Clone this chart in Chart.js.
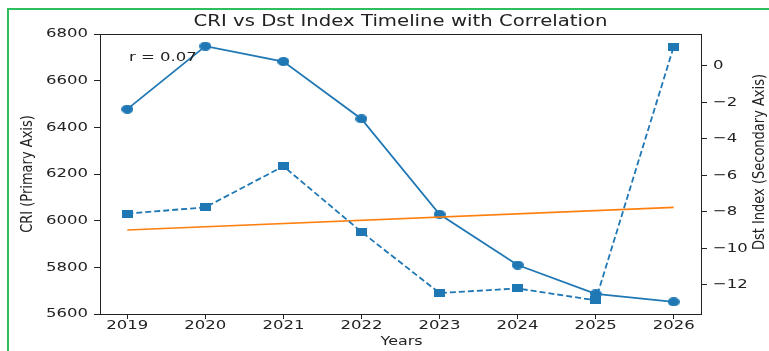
<!DOCTYPE html>
<html>
<head>
<meta charset="utf-8">
<script src="https://cdn.jsdelivr.net/npm/chart.js@4.4.1/dist/chart.umd.min.js"></script>
<style>
html,body{margin:0;padding:0;background:#fff;}
#wrap{position:relative;width:769px;height:351px;}
canvas{display:block;}
</style>
</head>
<body>
<div id="wrap"><canvas id="c" width="769" height="351"></canvas></div>
<script>
const years = [2019, 2020, 2021, 2022, 2023, 2024, 2025, 2026];
const cri = [6478, 6748, 6682, 6436, 6027, 5810, 5686, 5652];
const dst = [-8.1, -7.75, -5.5, -9.1, -12.45, -12.2, -12.85, 1.05];
const trendYears = [2019, 2026];
const trendValues = [5960, 6057];
const criTicks = [5600, 5800, 6000, 6200, 6400, 6600, 6800];
const dstTicks = [-12, -10, -8, -6, -4, -2, 0];
const corrLabel = 'r = 0.07';
const titleText = 'CRI vs Dst Index Timeline with Correlation';
const xTitle = 'Years';
const yTitle = 'CRI (Primary Axis)';
const y2Title = 'Dst Index (Secondary Axis)';

const BLUE = '#1f77b4', ORANGE = '#ff7f0e', INK = '#222';
const FONT = "'DejaVu Sans', sans-serif";
const SX = 1.27; // horizontal text stretch seen in the reference

function marker(kind, w, h) {
  const c = document.createElement('canvas');
  c.width = w; c.height = h;
  const x = c.getContext('2d');
  x.fillStyle = BLUE;
  if (kind === 'circle') {
    x.beginPath(); x.ellipse(w/2, h/2, w/2, h/2, 0, 0, Math.PI*2); x.fill();
  } else {
    x.fillRect(0, 0, w, h);
  }
  return c;
}
const circ = marker('circle', 12, 9);
const sq = marker('rect', 11, 8);

const fixedTicks = arr => scale => { scale.ticks = arr.map(v => ({value: v})); };
const minus = v => String(v).replace('-', '\u2212');

function txt(ctx, s, x, y, align, size, rot) {
  ctx.save();
  ctx.font = size + 'px ' + FONT;
  ctx.textAlign = align;
  ctx.textBaseline = 'middle';
  ctx.translate(x, y);
  if (rot) { ctx.rotate(rot); ctx.scale(1, SX); } else { ctx.scale(SX, 1); }
  ctx.fillText(s, 0, 0);
  ctx.restore();
}

const decor = {
  id: 'decor',
  beforeDraw(chart) {
    const ctx = chart.ctx;
    ctx.save();
    ctx.fillStyle = '#fff';
    ctx.fillRect(0, 0, chart.width, chart.height);
    ctx.strokeStyle = '#2dbf5e';
    ctx.lineWidth = 2;
    ctx.beginPath();
    ctx.moveTo(8, 351); ctx.lineTo(8, 9); ctx.lineTo(769, 9);
    ctx.stroke();
    ctx.restore();
  },
  afterDraw(chart) {
    const ctx = chart.ctx, a = chart.chartArea;
    const sx = chart.scales.x, sy = chart.scales.y, sy2 = chart.scales.y2;
    ctx.save();
    ctx.strokeStyle = INK;
    ctx.lineWidth = 1;
    ctx.strokeRect(Math.round(a.left) + 0.5, Math.round(a.top) + 0.5, Math.round(a.right - a.left), Math.round(a.bottom - a.top));
    ctx.fillStyle = INK;
    // tick labels
    years.forEach(v => txt(ctx, String(v), sx.getPixelForValue(v), a.bottom + 12, 'center', 13));
    criTicks.forEach(v => txt(ctx, String(v), a.left - 12, sy.getPixelForValue(v), 'right', 13));
    dstTicks.forEach(v => txt(ctx, minus(v), a.right + 12, sy2.getPixelForValue(v), 'left', 13));
    // titles
    const midX = (a.left + a.right) / 2, midY = (a.top + a.bottom) / 2;
    txt(ctx, titleText, midX, 22, 'center', 15.5);
    txt(ctx, xTitle, midX + 1, 342, 'center', 12.5);
    txt(ctx, yTitle, 28, midY, 'center', 13, -Math.PI / 2);
    txt(ctx, y2Title, 760, midY - 12, 'center', 13, -Math.PI / 2);
    txt(ctx, corrLabel, 129, 58, 'left', 13);
    ctx.restore();
  }
};

const gridY = {display: true, drawOnChartArea: false, drawTicks: true, tickLength: 6, tickColor: INK, tickWidth: 1};
const gridX = {display: true, drawOnChartArea: false, drawTicks: true, tickLength: 5, tickColor: INK, tickWidth: 1};

new Chart(document.getElementById('c'), {
  type: 'line',
  data: {
    datasets: [
      {
        label: 'Dst', yAxisID: 'y2', order: 0,
        data: years.map((y, i) => ({x: y, y: dst[i]})),
        borderColor: BLUE, backgroundColor: BLUE, borderWidth: 1.8,
        borderDash: [6, 3], pointStyle: sq, pointRadius: 5, tension: 0
      },
      {
        label: 'Trend', yAxisID: 'y', order: 1,
        data: trendYears.map((y, i) => ({x: y, y: trendValues[i]})),
        borderColor: ORANGE, borderWidth: 1.6, pointRadius: 0, tension: 0
      },
      {
        label: 'CRI', yAxisID: 'y', order: 2,
        data: years.map((y, i) => ({x: y, y: cri[i]})),
        borderColor: BLUE, backgroundColor: BLUE, borderWidth: 1.8,
        pointStyle: circ, pointRadius: 5, tension: 0
      }
    ]
  },
  options: {
    responsive: false,
    animation: false,
    events: [],
    layout: {padding: {top: 34, left: 0, right: 0, bottom: 0}},
    plugins: {legend: {display: false}, tooltip: {enabled: false}},
    scales: {
      x: {
        type: 'linear', min: 2018.65, max: 2026.35,
        afterBuildTicks: fixedTicks(years),
        afterFit: s => { s.height = 37; },
        ticks: {display: false},
        grid: gridX,
        border: {display: false}
      },
      y: {
        position: 'left', min: 5600, max: 6800,
        afterBuildTicks: fixedTicks(criTicks),
        afterFit: s => { s.width = 100; },
        ticks: {display: false},
        grid: gridY,
        border: {display: false}
      },
      y2: {
        position: 'right', min: -13.6, max: 1.75,
        afterBuildTicks: fixedTicks(dstTicks),
        afterFit: s => { s.width = 68; },
        ticks: {display: false},
        grid: gridY,
        border: {display: false}
      }
    }
  },
  plugins: [decor]
});
</script>
</body>
</html>
